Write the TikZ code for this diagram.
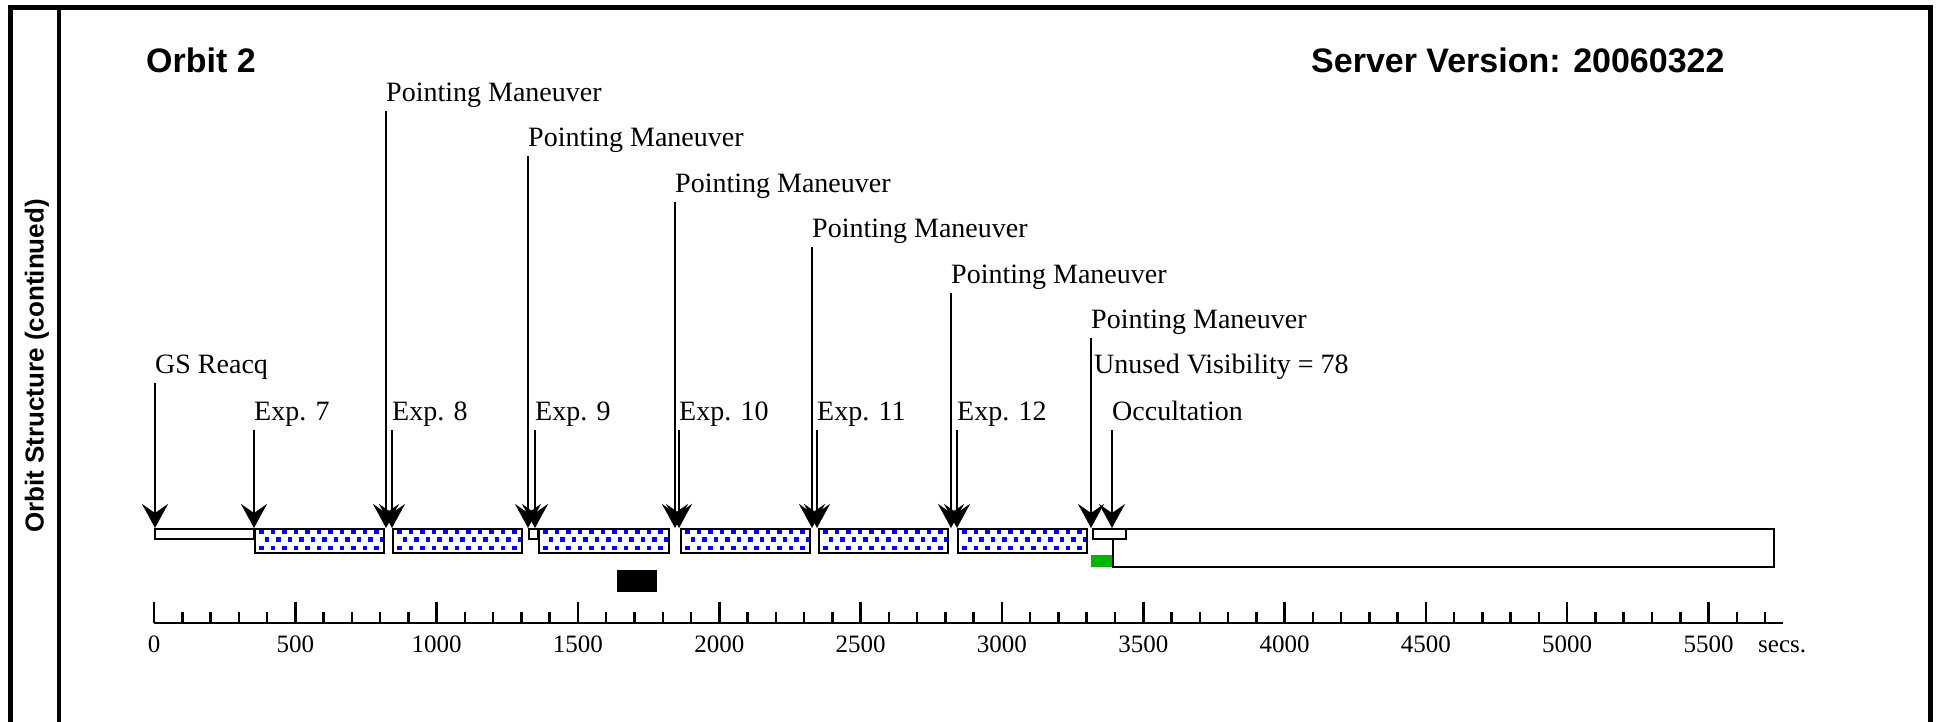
\documentclass[tikz,border=0pt]{standalone}
\usepackage{fontspec}
\setmainfont{Liberation Serif}
\newfontfamily\hsans{Liberation Sans}
\usetikzlibrary{arrows.meta,calc}
\definecolor{dotblue}{RGB}{0,0,255}
\definecolor{mygreen}{RGB}{0,180,0}
\begin{document}
\begin{tikzpicture}[x=1pt,y=-1pt,
  lbl/.style={anchor=base west,inner sep=0pt,font=\fontsize{28}{30}\selectfont},
  ttl/.style={anchor=base west,inner sep=0pt,font=\hsans\bfseries\fontsize{34}{36}\selectfont},
  arr/.style={line width=2.5pt,-{Stealth[length=24pt,width=26pt,inset=9pt]}},
  barbox/.style={draw=black,line width=2.5pt},
  framelw/.style={line width=5pt},
  tickln/.style={line width=2.5pt},
  axlbl/.style={anchor=base,inner sep=0pt,font=\fontsize{25}{27}\selectfont}
]
\useasboundingbox (0,0) rectangle (1939,721);
% frame
\draw[framelw] (10,740) -- (10,7) -- (1930,7) -- (1930,740);
\draw[line width=4.5pt] (59,7) -- (59,740);
% titles
\node[ttl] (orbit) at (146,72) {Orbit 2};
\node[ttl] (server) at (1311,72) {Server Version: 20060322};
\node[font=\hsans\bfseries\fontsize{26}{28}\selectfont,rotate=90,inner sep=0pt] (side) at (37,366) {Orbit Structure (continued)};
% bars
\coordinate (bar) at (0,528);
\draw[barbox,fill=white] (1113,529) rectangle (1774,567);
\fill[mygreen] (1091,555) rectangle (1112,567);
\draw[barbox,fill=white] (1093,529) rectangle (1126,539);
\draw[barbox,fill=white] (155,529) rectangle (254,539);
\draw[barbox,fill=white] (529,529) rectangle (538,539);
\foreach \a/\b in {255/384,393/522,539/669,681/810,819/948,958/1087}{
  \begin{scope}
    \clip (\a,529) rectangle (\b,553);
    \fill[white] (\a,529) rectangle (\b,553);
    \foreach \r in {0,1,2}{
      \foreach \c in {0,...,12}{
        \fill[dotblue] ({\a+4+11.5*\c+5.75*mod(\r,2)},{529+8.3*\r}) rectangle ++(4.5,4.5);
      }
    }
  \end{scope}
  \draw[barbox] (\a,529) rectangle (\b,553);
}
\fill[black] (617,570) rectangle (657,592);
% labels and arrows
\node[lbl] (pm1) at (386,101) {Pointing Maneuver};
\node[lbl] (pm2) at (528,146) {Pointing Maneuver};
\node[lbl] (pm3) at (675,192) {Pointing Maneuver};
\node[lbl] (pm4) at (812,237) {Pointing Maneuver};
\node[lbl] (pm5) at (951,283) {Pointing Maneuver};
\node[lbl] (pm6) at (1091,328) {Pointing Maneuver};
\node[lbl] (uv) at (1094,373) {Unused Visibility = 78};
\node[lbl] (gs) at (155,373) {GS Reacq};
\node[lbl] (e7) at (254,420) {Exp. 7};
\node[lbl] (e8) at (392,420) {Exp. 8};
\node[lbl] (e9) at (535,420) {Exp. 9};
\node[lbl] (e10) at (679,420) {Exp. 10};
\node[lbl] (e11) at (817,420) {Exp. 11};
\node[lbl] (e12) at (957,420) {Exp. 12};
\node[lbl] (occ) at (1112,420) {Occultation};
\foreach \n in {pm1,pm2,pm3,pm4,pm5,pm6,gs,e7,e8,e9,e10,e11,e12,occ}{
  \draw[arr] ($(\n.base west)+(0,10)$) -- (\n.base west |- bar);
}
% axis
\draw[tickln] (154,623) -- (1783,623);
\foreach \i in {0,...,57}{
  \pgfmathtruncatemacro\m{mod(\i,5)}
  \ifnum\m=0
    \draw[tickln] ({154+28.264*\i},623) -- ({154+28.264*\i},602);
  \else
    \draw[tickln] ({154+28.264*\i},623) -- ({154+28.264*\i},612);
  \fi
}
\foreach \i in {0,...,11}{
  \pgfmathtruncatemacro\v{500*\i}
  \node[axlbl] (ax\i) at ({154+141.32*\i},652) {\v};
}
\node[axlbl,anchor=base west] (secs) at (1758,652) {secs.};
\end{tikzpicture}
\end{document}
